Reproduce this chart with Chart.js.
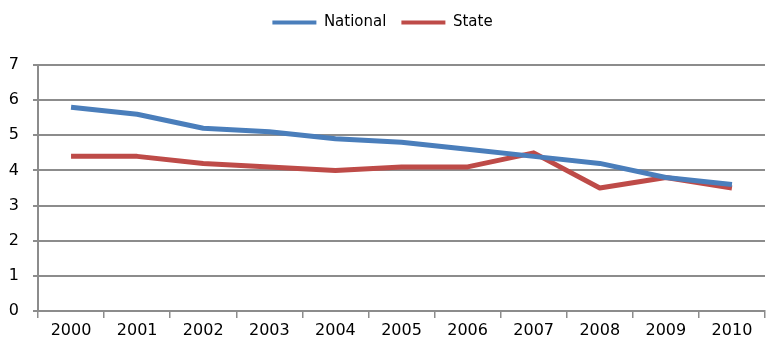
<!DOCTYPE html>
<html>
<head>
<meta charset="utf-8">
<script src="https://cdn.jsdelivr.net/npm/chart.js@4/dist/chart.umd.min.js"></script>
<style>
  html, body { margin: 0; padding: 0; background: #fff; }
  #wrap { width: 767px; height: 345px; }
</style>
</head>
<body>
<div id="wrap"><canvas id="c" width="767" height="345"></canvas></div>
<script>
const years = ['2000','2001','2002','2003','2004','2005','2006','2007','2008','2009','2010'];
const nationalValues = [5.8, 5.6, 5.2, 5.1, 4.9, 4.8, 4.6, 4.4, 4.2, 3.8, 3.6];
const stateValues = [4.4, 4.4, 4.2, 4.1, 4.0, 4.1, 4.1, 4.5, 3.5, 3.8, 3.5];

const FONT = "'DejaVu Sans', sans-serif";
const gridGray = '#8c8c8c';

// extra room between the legend and the plot area
const legendSpace = {
  id: 'legendSpace',
  beforeInit(chart) {
    const legend = chart.legend;
    const origFit = legend.fit;
    legend.fit = function () {
      origFit.call(this);
      this.height += 25;
    };
  }
};

new Chart(document.getElementById('c'), {
  type: 'line',
  data: {
    labels: years,
    datasets: [
      { label: 'National', data: nationalValues, borderColor: '#4a7ebb', backgroundColor: '#4a7ebb',
        borderWidth: 5, pointRadius: 0, tension: 0, borderJoinStyle: 'round', borderCapStyle: 'butt' },
      { label: 'State', data: stateValues, borderColor: '#be4b48', backgroundColor: '#be4b48',
        borderWidth: 5, pointRadius: 0, tension: 0, borderJoinStyle: 'round', borderCapStyle: 'butt' }
    ]
  },
  plugins: [legendSpace],
  options: {
    responsive: false,
    animation: false,
    layout: { padding: { left: 0, right: 2, top: 0, bottom: 0 } },
    plugins: {
      tooltip: { enabled: false },
      legend: {
        position: 'top',
        labels: {
          boxWidth: 44, boxHeight: 4, padding: 15,
          color: '#000', font: { family: FONT, size: 15 },
          generateLabels(chart) {
            return chart.data.datasets.map((ds, i) => ({
              text: ds.label, fillStyle: ds.borderColor, strokeStyle: ds.borderColor,
              lineWidth: 0, hidden: false, datasetIndex: i, fontColor: '#000'
            }));
          }
        }
      }
    },
    scales: {
      x: {
        offset: true,
        grid: { offset: true, drawOnChartArea: false, drawTicks: true, tickLength: 7, color: gridGray, lineWidth: 1.5 },
        border: { color: gridGray, width: 2 },
        ticks: { color: '#000', font: { family: FONT, size: 16 }, padding: 3, maxRotation: 0 },
        afterFit: s => { s.height = 34; }
      },
      y: {
        min: 0, max: 7,
        ticks: { stepSize: 1, color: '#000', font: { family: FONT, size: 16 }, padding: 14 },
        grid: { color: gridGray, lineWidth: 2, tickLength: 5 },
        border: { color: gridGray, width: 2 },
        afterFit: s => { s.width = 38; }
      }
    }
  }
});
</script>
</body>
</html>
